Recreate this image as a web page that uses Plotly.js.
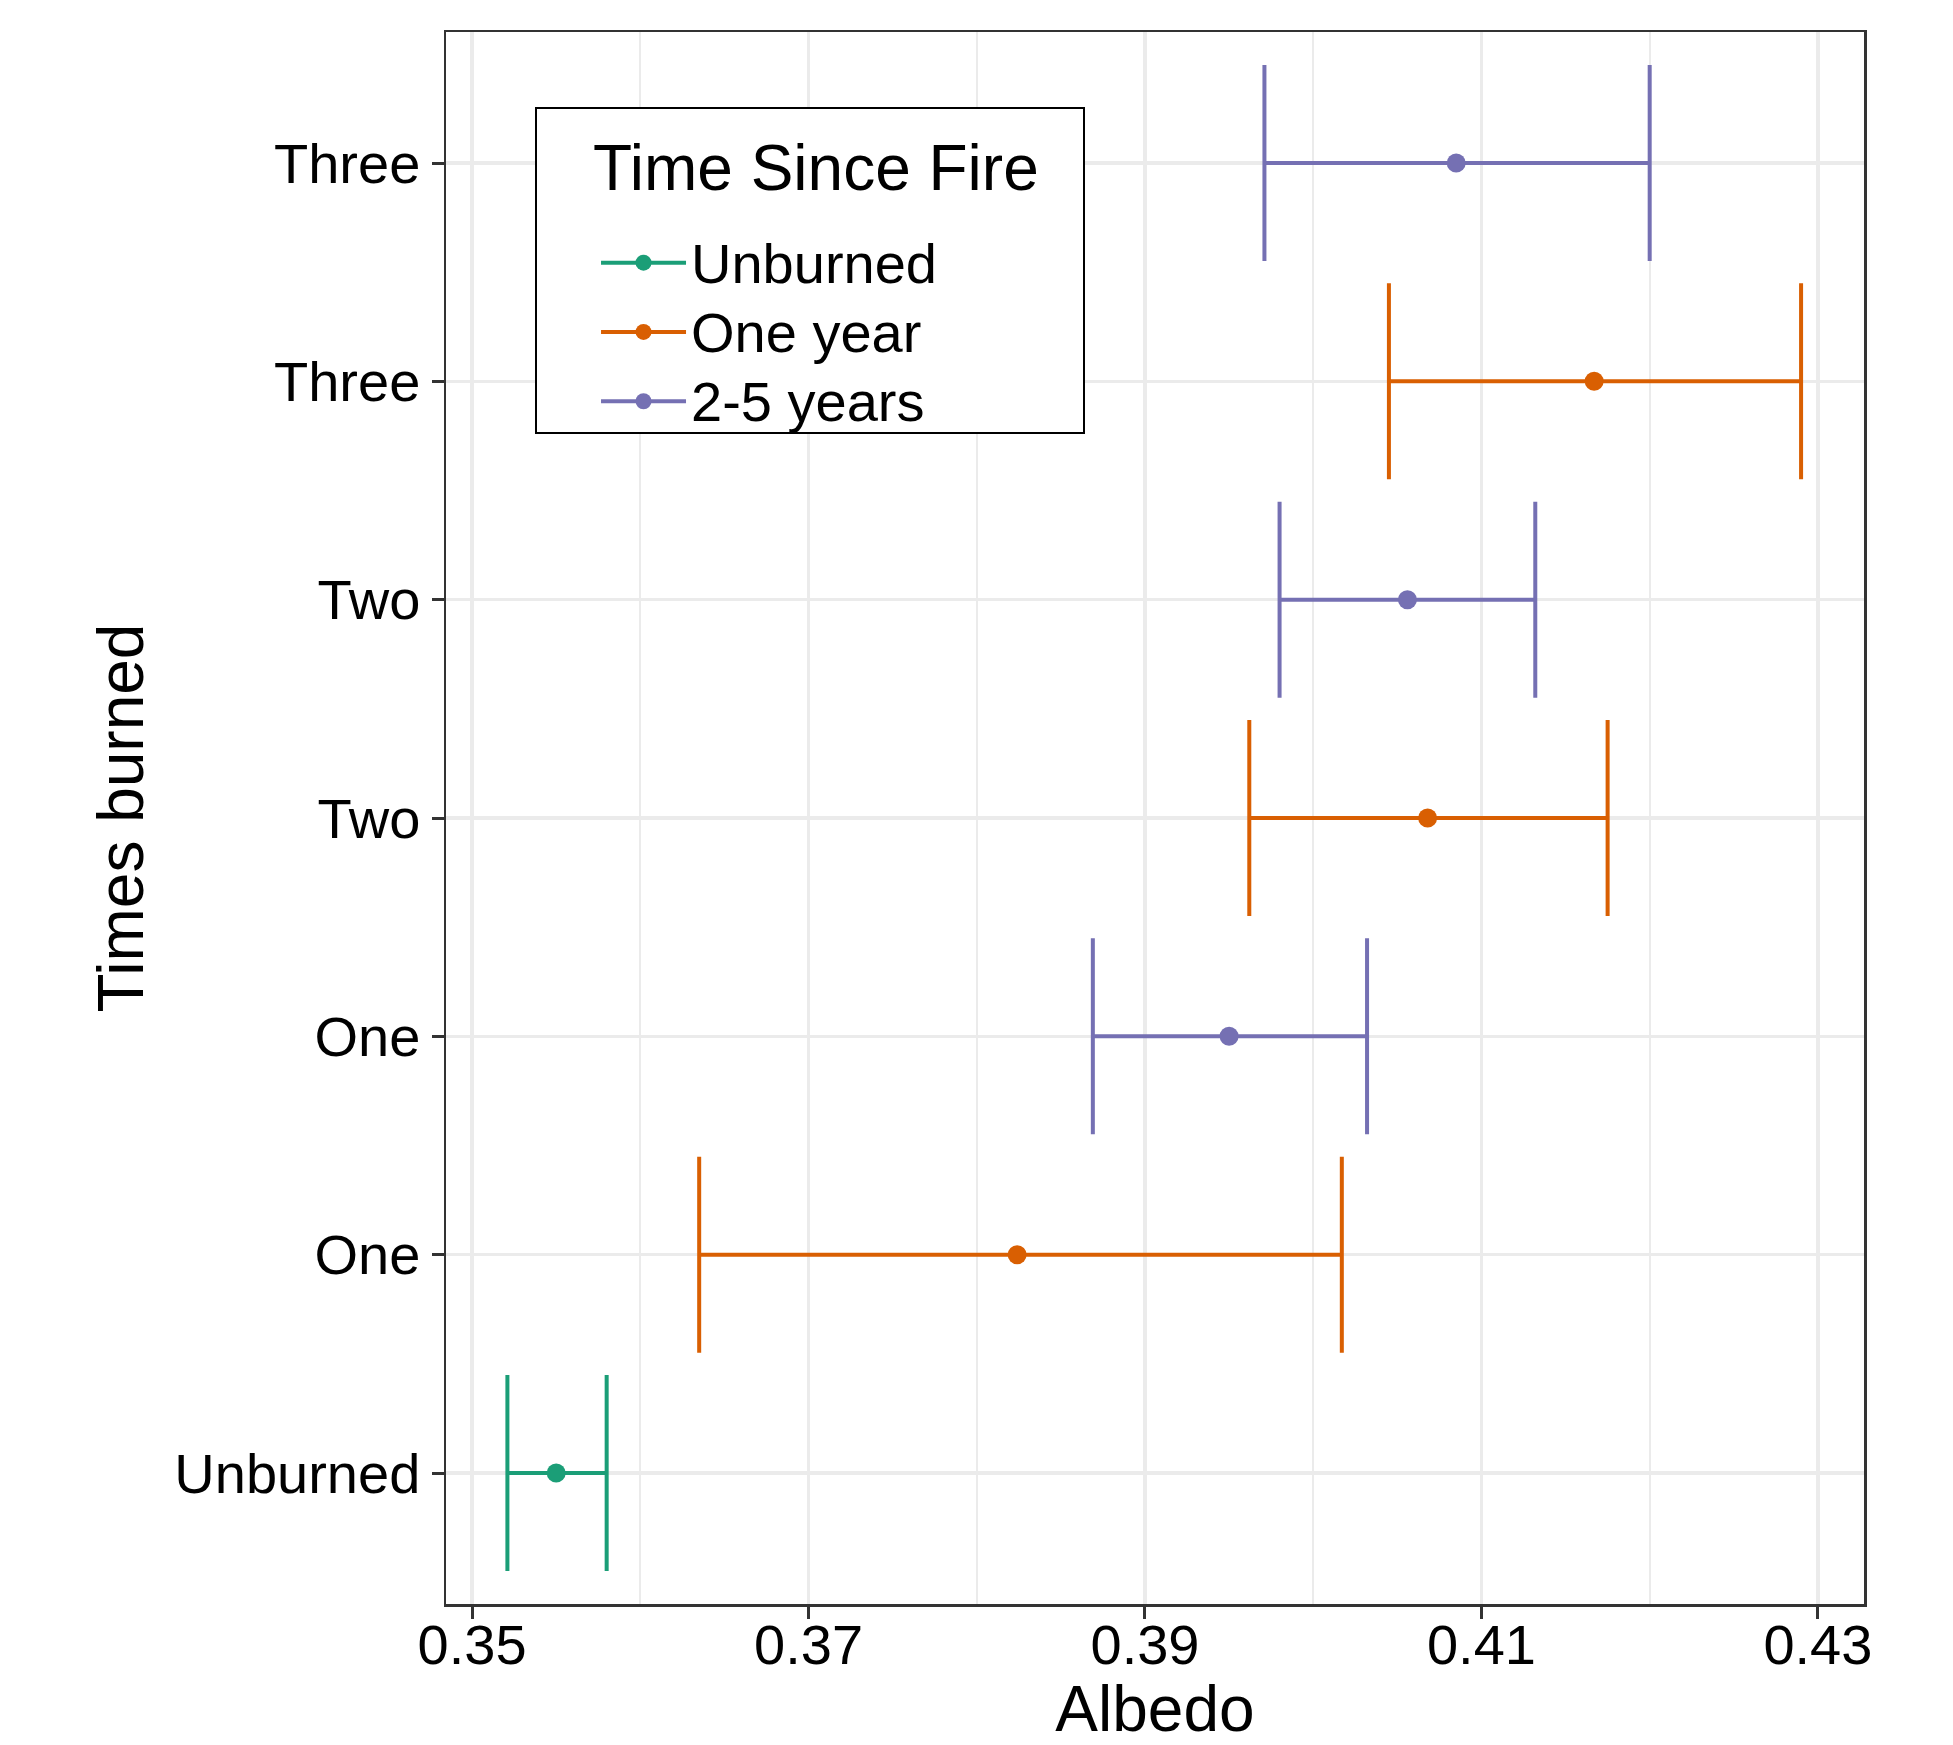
<!DOCTYPE html>
<html>
<head>
<meta charset="utf-8">
<script src="https://cdn.plot.ly/plotly-3.0.1.min.js"></script>
<style>html,body{margin:0;padding:0;background:#fff;}#chart{width:1953px;height:1745px;}</style>
</head>
<body>
<div id="chart"></div>
<script>
// Row labels of the y axis (bottom to top)
var rowLabels = ["Unburned", "One", "One", "Two", "Two", "Three", "Three"];

// Series: row index, mean albedo, lower and upper bounds
var unburnedRows = [0];
var unburnedMean = [0.3550];
var unburnedLow  = [0.3521];
var unburnedHigh = [0.3580];

var oneYearRows = [1, 3, 5];
var oneYearMean = [0.3824, 0.4068, 0.4167];
var oneYearLow  = [0.3635, 0.3962, 0.4045];
var oneYearHigh = [0.4017, 0.4175, 0.4290];

var twoFiveRows = [2, 4, 6];
var twoFiveMean = [0.3950, 0.4056, 0.4085];
var twoFiveLow  = [0.3869, 0.3980, 0.3971];
var twoFiveHigh = [0.4032, 0.4132, 0.4200];

var xTicks = [0.35, 0.37, 0.39, 0.41, 0.43];
var xTickText = ["0.35", "0.37", "0.39", "0.41", "0.43"];

var seriesNames = ["Unburned", "One year", "2-5 years"];
var colors = ["#1B9E77", "#D95F02", "#7570B3"];
var legendTitle = "Time Since Fire";

var FONT = "Liberation Sans, Arial, Helvetica, sans-serif";

function diff(a, b) { return a.map(function (v, i) { return v - b[i]; }); }

function seriesTrace(rows, mean, low, high, color, name) {
  return {
    type: "scatter",
    mode: "markers",
    x: mean,
    y: rows,
    name: name,
    showlegend: false,
    marker: { color: color, size: 19 },
    error_x: {
      type: "data",
      symmetric: false,
      array: diff(high, mean),
      arrayminus: diff(mean, low),
      color: color,
      thickness: 4,
      width: 98
    },
    hoverinfo: "x+y"
  };
}

function legendTrace(color, name) {
  return {
    type: "scatter",
    mode: "lines+markers",
    x: [null],
    y: [null],
    name: '<span style="font-size:56px">' + name + '</span>',
    showlegend: true,
    line: { color: color, width: 4 },
    marker: { color: color, size: 19 }
  };
}

var data = [
  seriesTrace(unburnedRows, unburnedMean, unburnedLow, unburnedHigh, colors[0], seriesNames[0]),
  seriesTrace(oneYearRows, oneYearMean, oneYearLow, oneYearHigh, colors[1], seriesNames[1]),
  seriesTrace(twoFiveRows, twoFiveMean, twoFiveLow, twoFiveHigh, colors[2], seriesNames[2]),
  legendTrace(colors[0], seriesNames[0]),
  legendTrace(colors[1], seriesNames[1]),
  legendTrace(colors[2], seriesNames[2])
];

var layout = {
  width: 1953,
  height: 1745,
  margin: { l: 446, r: 89, t: 32, b: 141, pad: 0 },
  paper_bgcolor: "#ffffff",
  plot_bgcolor: "#ffffff",
  font: { family: FONT, color: "#000000", size: 56 },
  showlegend: true,
  xaxis: {
    range: [0.34845, 0.43274],
    tickmode: "array",
    tickvals: xTicks,
    ticktext: xTickText,
    ticks: "outside",
    ticklen: 12,
    tickwidth: 3,
    tickcolor: "#333333",
    ticklabelstandoff: -22,
    tickfont: { family: FONT, size: 56, color: "#000000" },
    showgrid: true,
    gridcolor: "#ebebeb",
    gridwidth: 3.5,
    minor: { dtick: 0.01, tick0: 0.35, showgrid: true, gridcolor: "#ebebeb", gridwidth: 1.75, ticks: "" },
    zeroline: false,
    showline: true,
    mirror: true,
    linecolor: "#333333",
    linewidth: 2.5,
    title: { text: "Albedo", font: { family: FONT, size: 64, color: "#000000" }, standoff: 36 }
  },
  yaxis: {
    range: [-0.6, 6.6],
    tickmode: "array",
    tickvals: rowLabels.map(function (_, i) { return i; }),
    ticktext: rowLabels,
    ticks: "outside",
    ticklen: 12,
    tickwidth: 3,
    tickcolor: "#333333",
    tickfont: { family: FONT, size: 56, color: "#000000" },
    showgrid: true,
    gridcolor: "#ebebeb",
    gridwidth: 3.5,
    zeroline: false,
    showline: true,
    mirror: true,
    linecolor: "#333333",
    linewidth: 2.5,
    title: { text: "Times burned", font: { family: FONT, size: 64, color: "#000000" }, standoff: 10 }
  },
  shapes: [{
    type: "rect",
    xref: "paper", yref: "paper",
    x0: 0.06347, x1: 0.44993, y0: 0.74491, y1: 0.95165,
    line: { color: "#000000", width: 2 },
    fillcolor: "#ffffff",
    layer: "above"
  }],
  annotations: [{
    xref: "paper", yref: "paper",
    x: 0.2609, y: 0.9135,
    xanchor: "center", yanchor: "middle",
    showarrow: false,
    text: legendTitle,
    font: { family: FONT, size: 64, color: "#000000" }
  }],
  legend: {
    x: 0.1058,
    y: 0.8785,
    xanchor: "left",
    yanchor: "top",
    bgcolor: "rgba(0,0,0,0)",
    borderwidth: 0,
    traceorder: "normal",
    font: { family: FONT, size: 51, color: "#000000" },
    itemwidth: 85,
    tracegroupgap: 0
  }
};

Plotly.newPlot("chart", data, layout, { displayModeBar: false, staticPlot: true });
</script>
</body>
</html>
